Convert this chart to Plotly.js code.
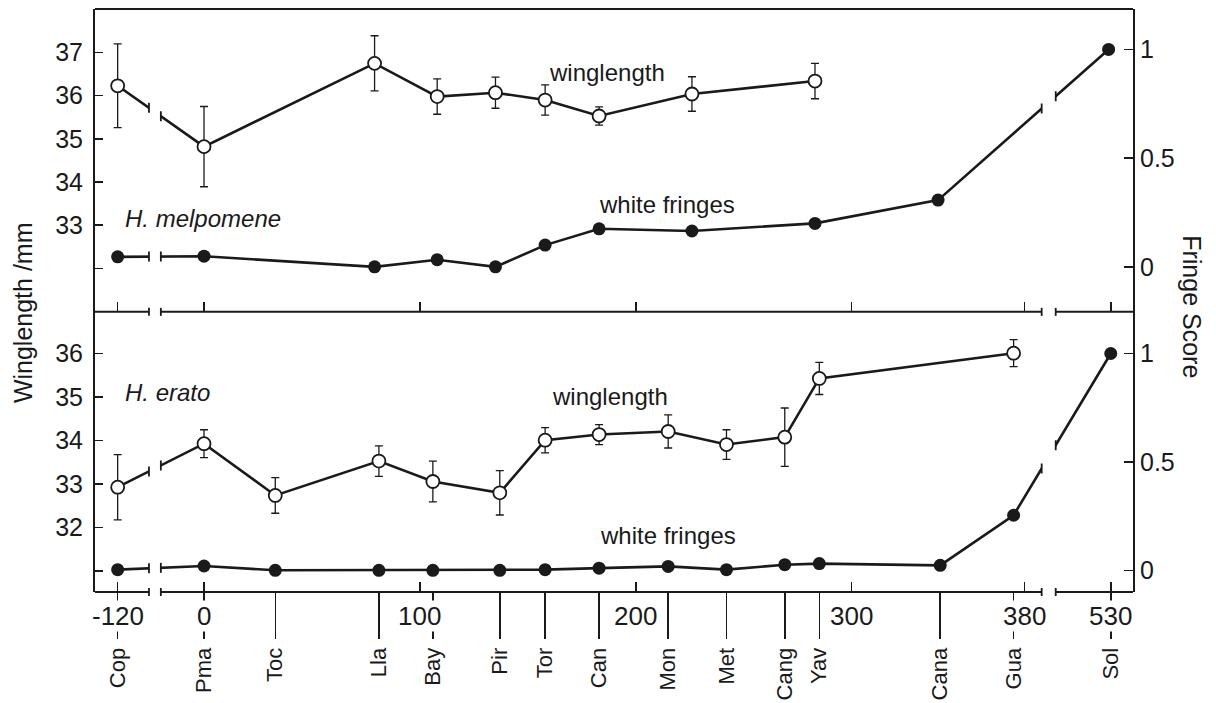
<!DOCTYPE html>
<html><head><meta charset="utf-8">
<script src="https://cdn.plot.ly/plotly-3.0.1.min.js"></script>
<style>html,body{margin:0;padding:0;background:#fff}#chart{width:1216px;height:703px}</style>
</head><body><div id="chart"></div>
<script>
// ---------------- DATA ----------------
// Sampling sites (shared x axis, distance in km)
const siteNames = ['Cop','Pma','Toc','Lla','Bay','Pir','Tor','Can','Mon','Met','Cang','Yav','Cana','Gua','Sol'];
const siteDist  = [-120, 0, 33, 81, 106, 137, 158, 183, 215, 242, 269, 285, 341, 375, 530];

// H. melpomene (upper panel)
const melDist     = [-120, 0, 79, 108, 135, 158, 183, 226, 283, 340, 529];
const melWing     = [36.23, 34.82, 36.75, 35.98, 36.07, 35.90, 35.53, 36.04, 36.34];
const melWingErr  = [0.97, 0.93, 0.64, 0.41, 0.36, 0.35, 0.21, 0.40, 0.41];
const melFringe   = [0.046, 0.049, 0.0, 0.033, 0.0, 0.10, 0.175, 0.165, 0.20, 0.307, 1.0];

// H. erato (lower panel), aligned with siteNames (null = not measured)
const erWing      = [32.93, 33.93, 32.74, 33.53, 33.06, 32.80, 34.01, 34.14, 34.21, 33.91, 34.08, 35.43, null, 36.01, null];
const erWingErr   = [0.75, 0.32, 0.41, 0.35, 0.47, 0.51, 0.29, 0.23, 0.38, 0.34, 0.67, 0.37, null, 0.31, null];
const erFringe    = [0.003, 0.02, 0.0, 0.0, 0.0, 0.0, 0.003, 0.01, 0.018, 0.003, 0.026, 0.031, 0.023, 0.254, 1.0];

// Tick labels
const distTicks      = [-120, 0, 100, 200, 300, 380, 530];
const distTickText   = ['-120', '0', '100', '200', '300', '380', '530'];
const wingTicksTop   = [32, 33, 34, 35, 36, 37];
const wingTextTop    = ['', '33', '34', '35', '36', '37'];
const wingTicksBot   = [31, 32, 33, 34, 35, 36];
const wingTextBot    = ['', '32', '33', '34', '35', '36'];
const fringeTicks    = [0, 0.5, 1];
const fringeText     = ['0', '0.5', '1'];

// ---------------- BROKEN X AXIS ----------------
const LEFT_SHIFT = 80;     // segment holding -120 is pulled right
const RIGHT_SHIFT = -110;  // segment holding 530 is pulled left
function pos(d){ return d < -60 ? d + LEFT_SHIFT : (d > 450 ? d + RIGHT_SHIFT : d); }
const GAP_L = [-25.5, -20];
const GAP_R = [388, 394.5];
const X_RANGE = [-50.5, 430.3];
const SPLIT = 0.4805;
const INK = '#1a1a1a';
const FONT = 'Liberation Sans, Arial, sans-serif';

function interp(xs, ys, xq){
  const px = [], py = [];
  xs.forEach((x,i)=>{ if (ys[i] !== null && ys[i] !== undefined){ px.push(x); py.push(ys[i]); } });
  for (let i=0;i<px.length-1;i++){
    if (px[i] <= xq && px[i+1] >= xq){
      return py[i] + (py[i+1]-py[i])*(xq-px[i])/(px[i+1]-px[i]);
    }
  }
  return null;
}

const openMarker = {symbol:'circle', size:13, color:'white', line:{color:INK, width:1.8}};
const fillMarker = {symbol:'circle', size:13, color:INK, line:{color:INK, width:0}};
const lineStyle = {color:INK, width:2.6};
const errStyle = (arr)=>({type:'data', array:arr, visible:true, color:INK, thickness:1.3, width:4});

const melWingX = melDist.slice(0, melWing.length).map(pos);
const melFringeX = melDist.map(pos);
const erX = siteDist.map(pos);

const traces = [
  {x:melWingX, y:melWing, xaxis:'x2', yaxis:'y', mode:'lines+markers', line:lineStyle, marker:openMarker, error_y:errStyle(melWingErr), hoverinfo:'skip'},
  {x:melFringeX, y:melFringe, xaxis:'x2', yaxis:'y2', mode:'lines+markers', line:lineStyle, marker:fillMarker, hoverinfo:'skip'},
  {x:erX, y:erWing, xaxis:'x', yaxis:'y3', mode:'lines+markers', connectgaps:true, line:lineStyle, marker:openMarker, error_y:errStyle(erWingErr), hoverinfo:'skip'},
  {x:erX, y:erFringe, xaxis:'x', yaxis:'y4', mode:'lines+markers', line:lineStyle, marker:fillMarker, hoverinfo:'skip'},
  {x:[erX[0]], y:[null], xaxis:'x3', yaxis:'y3', mode:'markers', hoverinfo:'skip', showlegend:false}
];

// ---------------- SHAPES (axis breaks) ----------------
const shapes = [];
[GAP_L, GAP_R].forEach(g=>{
  shapes.push({type:'rect', xref:'x', yref:'paper', x0:g[0], x1:g[1], y0:0.003, y1:0.997,
    fillcolor:'white', line:{width:0}, layer:'above'});
});
// break bars on data lines
const brokenLines = [
  {xs:melWingX, ys:melWing, xref:'x2', yref:'y', gaps:[GAP_L]},
  {xs:melFringeX, ys:melFringe, xref:'x2', yref:'y2', gaps:[GAP_L, GAP_R]},
  {xs:erX, ys:erWing, xref:'x', yref:'y3', gaps:[GAP_L]},
  {xs:erX, ys:erFringe, xref:'x', yref:'y4', gaps:[GAP_L, GAP_R]}
];
brokenLines.forEach(b=>{
  b.gaps.forEach(g=>{
    g.forEach(xe=>{
      const ye = interp(b.xs, b.ys, xe);
      if (ye !== null) shapes.push({type:'line', xref:b.xref, yref:b.yref, x0:xe, x1:xe,
        ysizemode:'pixel', yanchor:ye, y0:-5, y1:5, line:{color:INK, width:1.8}, layer:'above'});
    });
  });
});
// horizontal axis lines with breaks (middle separator and bottom axis)
[0, SPLIT].forEach(yp=>{
  const segs = [[X_RANGE[0], GAP_L[0]], [GAP_L[1], GAP_R[0]], [GAP_R[1], X_RANGE[1]]];
  segs.forEach(s=>shapes.push({type:'line', xref:'x', yref:'paper', x0:s[0], x1:s[1], y0:yp, y1:yp,
    line:{color:INK, width:2}, layer:'above'}));
  [GAP_L[0], GAP_L[1], GAP_R[0], GAP_R[1]].forEach(xe=>shapes.push({type:'line', xref:'x', yref:'paper',
    x0:xe, x1:xe, ysizemode:'pixel', yanchor:yp, y0:-4, y1:4, line:{color:INK, width:1.8}, layer:'above'}));
});
// top border
shapes.push({type:'line', xref:'paper', yref:'paper', x0:0, x1:1, y0:1, y1:1, line:{color:INK, width:2}, layer:'above'});

// ---------------- ANNOTATIONS ----------------
const annotations = [];
distTicks.forEach((t,i)=>annotations.push({x:pos(t), xref:'x', y:0, yref:'paper', yanchor:'top', yshift:-8,
  text:distTickText[i], showarrow:false, bgcolor:'white', borderpad:0, font:{size:26, family:FONT, color:INK}}));
const txt = (text, x, y, xanchor, extra)=>Object.assign({text, x, y, xref:'paper', yref:'paper', xanchor, yanchor:'middle',
  showarrow:false, font:{size:24, family:FONT, color:INK}}, extra||{});
annotations.push(txt('winglength', 0.4933, 0.8919, 'center'));
annotations.push(txt('white fringes', 0.551, 0.6654, 'center'));
annotations.push(txt('<i>H. melpomene</i>', 0.027, 0.641, 'left'));
annotations.push(txt('<i>H. erato</i>', 0.027, 0.3427, 'left'));
annotations.push(txt('winglength', 0.4961, 0.336, 'center'));
annotations.push(txt('white fringes', 0.552, 0.0973, 'center'));
annotations.push(txt('Winglength /mm', -0.0694, 0.48, 'center', {textangle:-90, font:{size:25, family:FONT, color:INK}}));
annotations.push(txt('Fringe Score', 1.0568, 0.4886, 'center', {textangle:90, font:{size:25, family:FONT, color:INK}}));

// ---------------- LAYOUT ----------------
const xBase = {range:X_RANGE, showline:false, showgrid:false, zeroline:false, fixedrange:true,
  tickmode:'array', tickvals:distTicks.map(pos), ticks:'inside', ticklen:10, tickwidth:1.5, tickcolor:INK, showticklabels:false};
const yBase = {showgrid:false, zeroline:false, fixedrange:true, showline:true, linewidth:2, linecolor:INK,
  tickmode:'array', ticks:'inside', ticklen:8, tickwidth:1.5, tickcolor:INK, tickfont:{size:25, family:FONT, color:INK}};

const layout = {
  width:1216, height:703, margin:{l:95, r:83, t:9, b:111, pad:0},
  paper_bgcolor:'white', plot_bgcolor:'rgba(0,0,0,0)', showlegend:false,
  font:{family:FONT, size:25, color:INK},
  xaxis: Object.assign({}, xBase, {anchor:'y3', domain:[0,1]}),
  xaxis2: Object.assign({}, xBase, {anchor:'y', domain:[0,1]}),
  xaxis3: {overlaying:'x', anchor:'y3', side:'bottom', range:X_RANGE, fixedrange:true,
    showline:false, showgrid:false, zeroline:false,
    tickmode:'array', tickvals:siteDist.map(pos), ticktext:siteNames,
    ticks:'outside', ticklen:46, tickwidth:1.5, tickcolor:INK, tickangle:-90,
    tickfont:{size:22, family:FONT, color:INK}},
  yaxis: Object.assign({}, yBase, {domain:[SPLIT,1], anchor:'x2', range:[30.99,38.01], tickvals:wingTicksTop, ticktext:wingTextTop, ticklabelstandoff:5}),
  yaxis2: Object.assign({}, yBase, {overlaying:'y', side:'right', anchor:'x2', range:[-0.207,1.186], tickvals:fringeTicks, ticktext:fringeText, ticklen:9}),
  yaxis3: Object.assign({}, yBase, {domain:[0,SPLIT], anchor:'x', range:[30.52,36.96], tickvals:wingTicksBot, ticktext:wingTextBot, ticklabelstandoff:5}),
  yaxis4: Object.assign({}, yBase, {overlaying:'y3', side:'right', anchor:'x', range:[-0.100,1.192], tickvals:fringeTicks, ticktext:fringeText, ticklen:9}),
  shapes, annotations
};

Plotly.newPlot('chart', traces, layout, {displayModeBar:false, staticPlot:true});
</script>
</body></html>
